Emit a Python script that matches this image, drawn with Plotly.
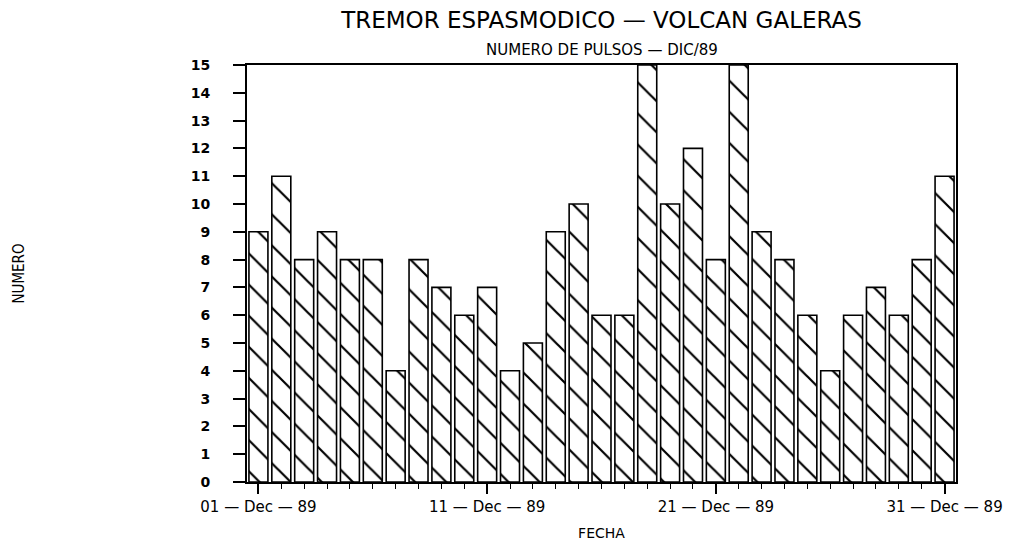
import plotly.graph_objects as go

dates = [f"1989-12-{d:02d}" for d in range(1, 32)]
pulsos = [9, 11, 8, 9, 8, 8, 4, 8, 7, 6, 7, 4, 5, 9, 10, 6, 6, 15, 10, 12,
          8, 15, 9, 8, 6, 4, 6, 7, 6, 8, 11]
tick_dates = ["1989-12-01", "1989-12-11", "1989-12-21", "1989-12-31"]
tick_labels = ["01 — Dec — 89", "11 — Dec — 89", "21 — Dec — 89", "31 — Dec — 89"]
y_ticks = list(range(0, 16))

FONT = "DejaVu Sans"
W, H = 1012, 533  # page body adds an 8px offset

fig = go.Figure()
fig.add_trace(go.Bar(
    x=dates, y=pulsos,
    marker=dict(
        color="white",
        line=dict(color="black", width=1.6),
        pattern=dict(shape="\\", size=22, solidity=0.1, fgopacity=1,
                     fgcolor="black", bgcolor="white"),
    ),
    showlegend=False,
))

fig.update_layout(
    width=W, height=H,
    margin=dict(l=239, r=64, t=57, b=59),
    paper_bgcolor="white", plot_bgcolor="white",
    bargap=0.17,
    title=dict(text="TREMOR ESPASMODICO — VOLCAN GALERAS",
               x=0.5, xref="paper", xanchor="center",
               y=1 - 12 / H, yref="container", yanchor="middle",
               font=dict(family=FONT, size=23, color="black")),
    annotations=[dict(text="NUMERO DE PULSOS — DIC/89",
                      xref="paper", yref="paper", x=0.5,
                      y=1 + 15 / 417, xanchor="center", yanchor="middle",
                      showarrow=False,
                      font=dict(family=FONT, size=15, color="black"))],
)

fig.update_xaxes(
    type="date", automargin=False,
    range=["1989-11-30 12:00", "1989-12-31 12:00"],
    tickvals=tick_dates, ticktext=tick_labels,
    ticks="outside", ticklen=10, tickwidth=1.5, tickcolor="black",
    minor=dict(dtick=86400000, tick0="1989-12-01", ticks="outside",
               ticklen=5, tickwidth=1, tickcolor="black"),
    showline=True, linecolor="black", linewidth=2, mirror=True,
    showgrid=False, zeroline=False,
    tickfont=dict(family=FONT, size=15, color="black"),
    title=dict(text="FECHA", standoff=13,
               font=dict(family=FONT, size=14, color="black")),
)

fig.update_yaxes(
    range=[0, 15], tickvals=y_ticks, automargin=False,
    ticks="outside", ticklen=12, tickwidth=1.5, tickcolor="black",
    ticklabelstandoff=20,
    showline=True, linecolor="black", linewidth=2, mirror=True,
    showgrid=False, zeroline=False,
    tickfont=dict(family=FONT, size=14, color="black", weight="bold"),
    title=dict(text="NUMERO", standoff=162,
               font=dict(family="DejaVu Sans Condensed", size=15, color="black")),
)

fig.write_html("out.html")
